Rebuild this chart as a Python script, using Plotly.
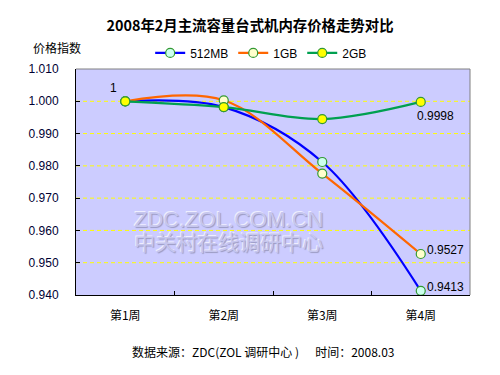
import plotly.graph_objects as go

weeks = ["第1周", "第2周", "第3周", "第4周"]
s512 = [1.0, 0.9982, 0.9812, 0.9413]
s1g = [1.0, 1.0003, 0.9776, 0.9527]
s2g = [1.0, 0.9982, 0.9945, 0.9998]
series_names = ["512MB", "1GB", "2GB"]
y_ticks = [0.940, 0.950, 0.960, 0.970, 0.980, 0.990, 1.000, 1.010]

FONT = "Liberation Sans, Arial, Noto Sans CJK SC"
CJK = "Noto Sans CJK SC, Liberation Sans"

line_colors = ["#0000ff", "#ff6600", "#00a050"]
fill_colors = ["#ccffee", "#ffffcc", "#ffff00"]
border = "#339933"

fig = go.Figure()
for name, vals, lc, fc in zip(series_names, [s512, s1g, s2g], line_colors, fill_colors):
    fig.add_trace(go.Scatter(
        x=weeks, y=vals, name=name, mode="lines+markers",
        line=dict(color=lc, width=2.2, shape="spline", smoothing=1.0),
        marker=dict(size=9, color=fc, line=dict(color=border, width=1.2)),
    ))

ann = []
# data labels
lab_font = dict(size=12, color="#000000", family=FONT)
ann.append(dict(x=weeks[0], y=s2g[0], text="1", showarrow=False, xanchor="center",
                yanchor="bottom", xshift=-12, yshift=4, font=lab_font))
ann.append(dict(x=weeks[3], y=s2g[3], text=f"{s2g[3]:.4f}", showarrow=False, xanchor="left",
                yanchor="top", xshift=-6, yshift=-5, font=lab_font))
ann.append(dict(x=weeks[3], y=s1g[3], text=f"{s1g[3]:.4f}", showarrow=False, xanchor="left",
                yanchor="middle", xshift=4, yshift=4, font=lab_font))
ann.append(dict(x=weeks[3], y=s512[3], text=f"{s512[3]:.4f}", showarrow=False, xanchor="left",
                yanchor="middle", xshift=4, yshift=4, font=lab_font))

# watermark (embossed via text shadow), one two-line annotation
emboss = "1px 1px 1px #9a9ac2, -1px -1px 0px #eeeeff"
ann.append(dict(x=(228 - 76) / 394, y=(295 - 231) / 226, xref="paper", yref="paper",
                text=f"<span style='font-size:22px;font-family:{FONT}'>ZDC.ZOL.COM.CN</span><br>"
                     f"<span style='font-size:21px;font-family:{CJK}'>中关村在线调研中心</span>",
                showarrow=False, xanchor="center", yanchor="middle",
                font=dict(size=18, color="#c6c6ee", family=FONT, shadow=emboss)))

# axis title
ann.append(dict(x=-0.048, y=1.093, xref="paper", yref="paper", text="价格指数", showarrow=False,
                font=dict(size=12, color="#000000", family=CJK), xanchor="center", yanchor="middle"))
# footer
ann.append(dict(x=0.475, y=-0.252, xref="paper", yref="paper",
                text="数据来源：ZDC(ZOL 调研中心 )&nbsp;&nbsp;&nbsp;&nbsp;&nbsp;&nbsp;时间：2008.03",
                showarrow=False, font=dict(size=12, color="#000000", family=CJK),
                xanchor="center", yanchor="middle"))

shapes = [
    dict(type="line", xref="paper", yref="paper", x0=0, x1=1, y0=1, y1=1,
         line=dict(color="#808080", width=1)),
    dict(type="line", xref="paper", yref="paper", x0=1, x1=1, y0=0, y1=1,
         line=dict(color="#808080", width=1)),
]
# dashed yellow gridlines at the inner y ticks
for v in y_ticks[1:-1]:
    shapes.append(dict(type="line", xref="paper", yref="y", x0=0, x1=1, y0=v, y1=v,
                       layer="below", line=dict(color="#ffff00", width=1, dash="4px,3px")))

fig.update_layout(
    width=500, height=375,
    margin=dict(l=76, r=30, t=69, b=80),
    paper_bgcolor="#ffffff", plot_bgcolor="#ccccff",
    annotations=ann, shapes=shapes,
    title=dict(text="<b>2008年2月主流容量台式机内存价格走势对比</b>", x=0.5, xanchor="center",
               y=1 - 26 / 375, yanchor="middle", font=dict(size=14.4, color="#000000", family=CJK)),
    font=dict(family=FONT, size=12, color="#000000"),
    showlegend=True,
    legend=dict(orientation="h", x=0.47, xanchor="center", y=1.071, yanchor="middle",
                bgcolor="rgba(0,0,0,0)", font=dict(size=12, family=FONT), itemwidth=30,
                tracegroupgap=0),
    xaxis=dict(type="category", categoryorder="array", categoryarray=weeks,
               range=[-0.5, 3.5], showgrid=False, showline=True, linecolor="#000000", linewidth=1,
               ticks="inside", ticklen=4, tickson="boundaries", tickcolor="#000000",
               tickfont=dict(size=12, family=CJK, color="#000000"), ticklabelstandoff=10),
    yaxis=dict(range=[0.940, 1.010], tickvals=y_ticks, tickformat=".3f",
               showgrid=False,
               showline=True, linecolor="#000000", linewidth=1, ticks="inside", ticklen=4,
               tickcolor="#000000", tickfont=dict(size=12, family=FONT, color="#000033"),
               zeroline=False, ticklabelstandoff=14),
)

fig.write_html("out.html", config={"displayModeBar": False},
               post_script="document.body.style.margin='0';")
